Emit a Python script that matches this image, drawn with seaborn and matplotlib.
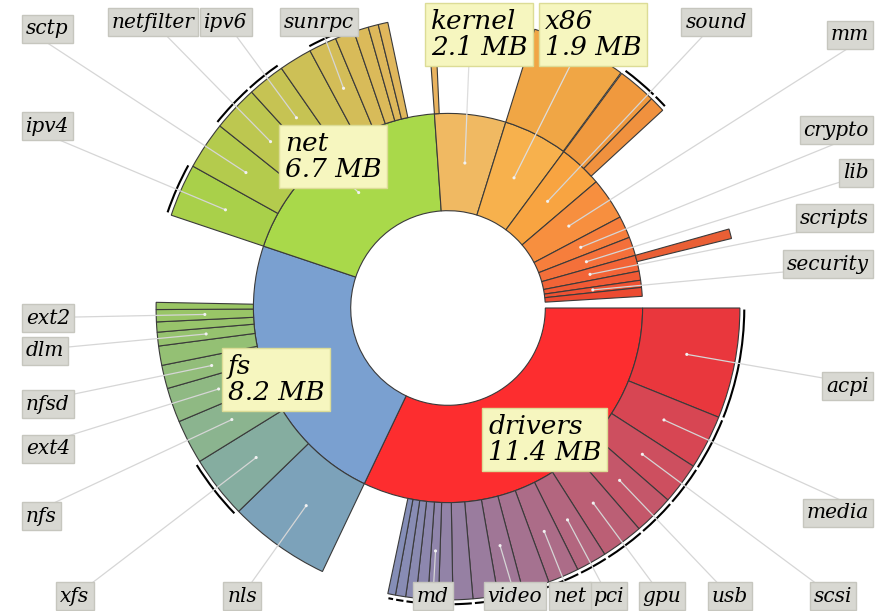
import math
import matplotlib
matplotlib.use("Agg")
import matplotlib.pyplot as plt
from matplotlib.patches import Wedge, Arc
import seaborn as sns

# Linux kernel build size by directory, clockwise from 3 o'clock (MB)
TOP_NAMES = ["drivers", "fs", "net", "kernel", "x86", "sound", "mm", "crypto",
             "lib", "scripts", "", "security", "", ""]
TOP_SIZES = [11.4, 8.2, 6.66, 2.1, 1.9, 1.29, 1.24, 0.65,
             0.55, 0.47, 0.27, 0.21, 0.26, 0.34]
# last entry is the remainder that is not drawn
TOP_COLORS = ["#fd2d2f", "#7aa0d0", "#a9d94a", "#f0b962", "#f7b14d", "#f8a441",
              "#f78f3f", "#f67e3c", "#f4703a", "#f26437", "#f05a35", "#ee5233",
              "#ec4b31", None]

# second level (only the parts that are drawn), in MB
DRIVERS_SUB = ["acpi", "media", "scsi", "usb", "gpu", "pci", "net", "", "video",
               "", "", "", "md", "", "", "", ""]
DRIVERS_SUB_MB = [2.17, 1.07, 0.82, 0.79, 0.83, 0.60, 0.61, 0.53, 0.49,
                  0.49, 0.39, 0.28, 0.21, 0.23, 0.20, 0.20, 0.15]
DRIVERS_SUB_MORE = [1, 1, 1, 1, 1, 1, 1, 1, 1, 1, 1, 1, 1, 1, 1, 1, 1]

FS_SUB = ["nls", "xfs", "nfs", "ext4", "nfsd", "", "dlm", "", "ext2", ""]
FS_SUB_MB = [2.01, 1.23, 0.87, 0.68, 0.46, 0.38, 0.27, 0.20, 0.24, 0.14]
FS_SUB_MORE = [0, 1, 0, 0, 0, 0, 0, 0, 0, 0]

NET_SUB = ["ipv4", "sctp", "netfilter", "ipv6", "", "sunrpc", "", "", "", ""]
NET_SUB_MB = [1.04, 0.94, 0.90, 0.74, 0.65, 0.55, 0.38, 0.29, 0.20, 0.19]
NET_SUB_MORE = [1, 0, 1, 1, 0, 1, 0, 0, 0, 0]

KERNEL_SUB = [""]
KERNEL_SUB_MB = [0.14]
X86_SUB = [""]
X86_SUB_MB = [1.88]
SOUND_SUB = ["", ""]
SOUND_SUB_MB = [0.76, 0.31]
SOUND_SUB_MORE = [1, 1]
SCRIPTS_SUB = [""]
SCRIPTS_SUB_MB = [0.19]

CHILDREN = {
    "drivers": (DRIVERS_SUB, DRIVERS_SUB_MB, DRIVERS_SUB_MORE),
    "fs": (FS_SUB, FS_SUB_MB, FS_SUB_MORE),
    "net": (NET_SUB, NET_SUB_MB, NET_SUB_MORE),
    "kernel": (KERNEL_SUB, KERNEL_SUB_MB, [0]),
    "x86": (X86_SUB, X86_SUB_MB, [0]),
    "sound": (SOUND_SUB, SOUND_SUB_MB, SOUND_SUB_MORE),
    "scripts": (SCRIPTS_SUB, SCRIPTS_SUB_MB, [0]),
}

# label placement (pixels): big yellow labels = text top-left corner
BIG_LABELS = {"drivers": (488, 414), "fs": (228, 354), "net": (285, 131),
              "kernel": (431, 9), "x86": (545, 9)}
SMALL_LABELS = {
    "net/sctp": (26, 29, "left"), "net/netfilter": (153, 22, "center"),
    "net/ipv6": (226, 22, "center"), "net/sunrpc": (319, 22, "center"),
    "net/ipv4": (26, 126, "left"), "sound": (716, 22, "center"),
    "mm": (869, 35, "right"), "crypto": (869, 130, "right"),
    "lib": (869, 173, "right"), "scripts": (869, 218, "right"),
    "security": (869, 264, "right"), "drivers/acpi": (869, 386, "right"),
    "drivers/media": (869, 513, "right"), "drivers/scsi": (833, 596, "center"),
    "drivers/usb": (730, 596, "center"), "drivers/gpu": (662, 596, "center"),
    "drivers/pci": (608, 596, "center"), "drivers/net": (570, 596, "center"),
    "drivers/video": (515, 596, "center"), "drivers/md": (433, 596, "center"),
    "fs/nls": (242, 596, "center"), "fs/xfs": (75, 596, "center"),
    "fs/nfs": (26, 516, "left"), "fs/ext4": (26, 449, "left"),
    "fs/nfsd": (26, 404, "left"), "fs/dlm": (26, 351, "left"),
    "fs/ext2": (26, 318, "left"),
}

sns.set_theme(style="white")
plt.rcParams["font.family"] = ["DejaVu Serif"]

W, H = 886, 611
CX, CY, PX = 448, 308, 97.3
fig = plt.figure(figsize=(W / 100, H / 100), dpi=100)
ax = fig.add_axes([0, 0, 1, 1])
ax.set_xlim(-CX / PX, (W - CX) / PX)
ax.set_ylim((CY - H) / PX, CY / PX)
ax.set_aspect("equal")
ax.axis("off")


def to_data(x, y):
    return (x - CX) / PX, (CY - y) / PX


def polar(r, deg):
    return r * math.cos(math.radians(deg)), r * math.sin(math.radians(deg))


deg_per_mb = 360.0 / sum(TOP_SIZES)
R_HOLE, R_MID, R_OUT = 1.0, 2.0, 3.0
edge = dict(edgecolor="#3a3a3a", linewidth=0.8)
dots = []  # (key, x, y)

start = 0.0
for i, (name, size, color) in enumerate(zip(TOP_NAMES, TOP_SIZES, TOP_COLORS)):
    span = size * deg_per_mb
    if color is not None:
        ax.add_patch(Wedge((0, 0), R_MID, start - span, start, width=R_MID - R_HOLE,
                           facecolor=color, zorder=2, **edge))
        dots.append((name, *polar(1.5, start - span / 2)))
        if name in CHILDREN:
            subs, mbs, more = CHILDREN[name]
            # children fade from the parent colour towards the next directory's
            grad = sns.blend_palette([color, TOP_COLORS[i + 1]], n_colors=101)
            s0 = start
            for sub, mb, m in zip(subs, mbs, more):
                sspan = mb * deg_per_mb
                t = (start - (s0 - sspan / 2)) / span
                c = [v * 0.97 for v in grad[int(round(t * 100))]]
                ax.add_patch(Wedge((0, 0), R_OUT, s0 - sspan, s0, width=R_OUT - R_MID,
                                   facecolor=c, zorder=2, **edge))
                if m:
                    ax.add_patch(Arc((0, 0), 2 * 3.045, 2 * 3.045, theta1=s0 - sspan + 0.3,
                                     theta2=s0 - 0.3, color="black", lw=1.5, zorder=2))
                if sub:
                    dots.append((name + "/" + sub, *polar(2.5, s0 - sspan / 2)))
                s0 -= sspan
    start -= span

label_font = dict(family="DejaVu Serif", style="italic", color="black")
for key, dx, dy in dots:
    if key in BIG_LABELS:
        lx, ly = BIG_LABELS[key]
        size = TOP_SIZES[TOP_NAMES.index(key)]
        tx, ty = to_data(lx, ly)
        ax.text(tx, ty, f"{key}\n{size:.1f} MB", ha="left", va="top", fontsize=19,
                linespacing=1.05, zorder=6,
                bbox=dict(boxstyle="square,pad=0.22", fc="#f6f6bf", ec="#dcdc96", lw=1),
                **label_font)
        ax.plot([dx, tx + 0.4], [dy, ty - 0.3], color="#dddddd", lw=0.9, zorder=3)
    elif key in SMALL_LABELS:
        lx, ly, ha = SMALL_LABELS[key]
        tx, ty = to_data(lx, ly)
        ax.text(tx, ty, key.split("/")[-1], ha=ha, va="center", fontsize=14.5, zorder=6,
                bbox=dict(boxstyle="square,pad=0.2", fc="#d8d8d2", ec="#c6c6be", lw=1),
                **label_font)
        ax.plot([dx, tx], [dy, ty], color="#d6d6d6", lw=0.9, zorder=3)
    else:
        continue
    ax.scatter([dx], [dy], s=5, color="#f2f2f2", edgecolor="none", zorder=4)

fig.savefig("out.png", dpi=100)
